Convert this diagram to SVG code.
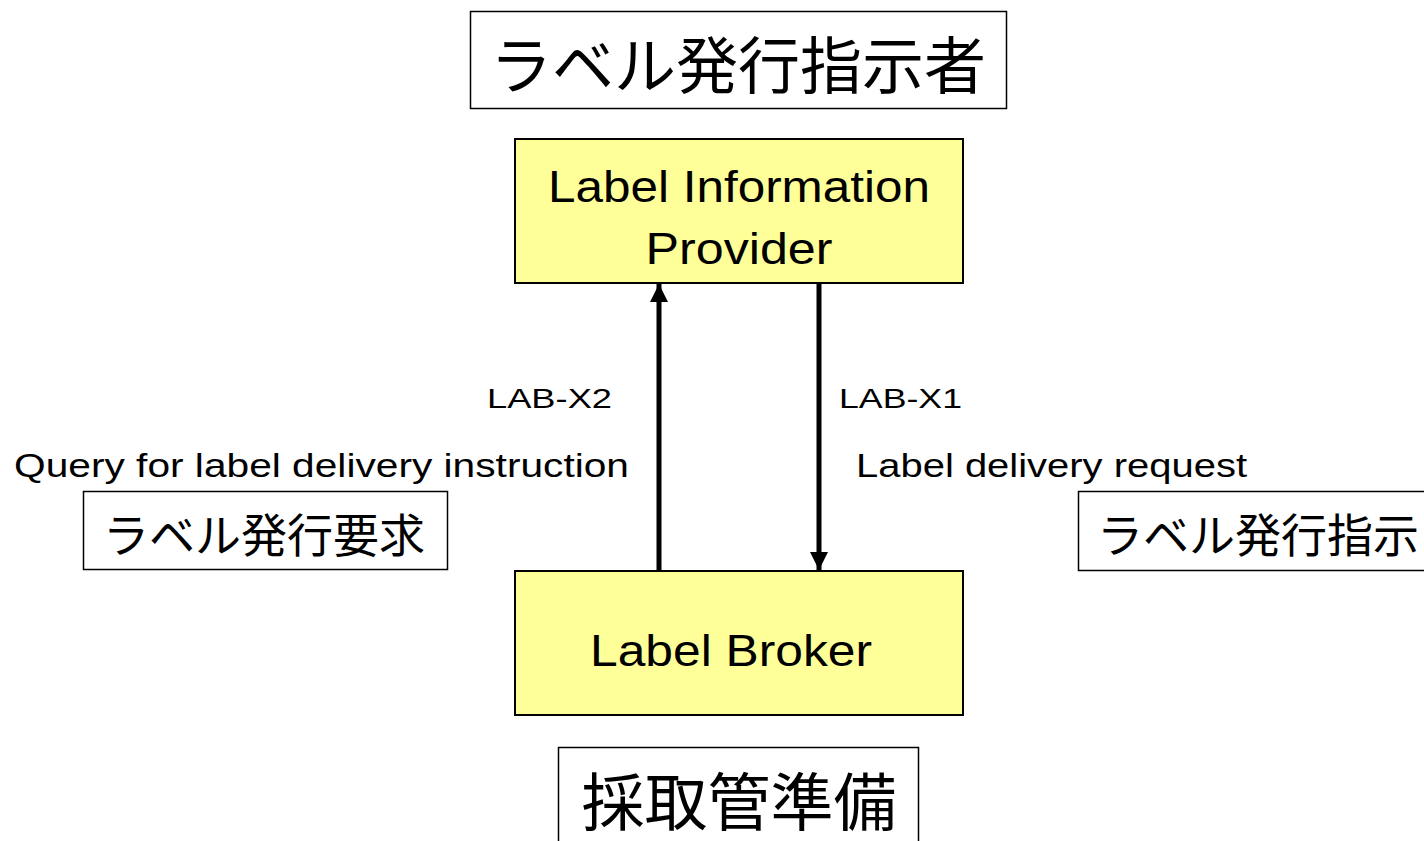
<svg xmlns="http://www.w3.org/2000/svg" width="1424" height="841" viewBox="0 0 1424 841">
<style>
.frame{fill:#fff;stroke:#000;stroke-width:1.5}
.node{fill:#FFFF99;stroke:#000;stroke-width:2}
.jp{font-family:"Noto Sans CJK JP","Liberation Sans",sans-serif;fill:#000}
.en{font-family:"Liberation Sans","DejaVu Sans",sans-serif;fill:#000}
.conn{stroke:#000;stroke-width:5;fill:none}
</style>
<defs>
<marker id="ah" markerWidth="18" markerHeight="18" refX="18" refY="9" orient="auto" markerUnits="userSpaceOnUse">
<path d="M0,0 L18,9 L0,18 Z" fill="#000"/>
</marker>
</defs>
<rect width="1424" height="841" fill="#fff"/>
<g id="title-top">
<rect class="frame" x="470.5" y="11.5" width="536" height="97"/>
<text class="jp" x="738" y="89" font-size="62" text-anchor="middle" textLength="496" lengthAdjust="spacingAndGlyphs">ラベル発行指示者</text>
</g>
<g id="lip">
<rect class="node" x="515" y="139" width="448" height="144"/>
<text class="en" x="739" y="202" font-size="44" text-anchor="middle" textLength="382" lengthAdjust="spacingAndGlyphs">Label Information</text>
<text class="en" x="739" y="264" font-size="44" text-anchor="middle" textLength="187" lengthAdjust="spacingAndGlyphs">Provider</text>
</g>
<g id="broker">
<rect class="node" x="515" y="571" width="448" height="144"/>
<text class="en" x="731" y="666" font-size="44" text-anchor="middle" textLength="282" lengthAdjust="spacingAndGlyphs">Label Broker</text>
</g>
<g id="title-bottom">
<rect class="frame" x="558.5" y="747.5" width="360" height="110"/>
<text class="jp" x="739" y="825" font-size="63" text-anchor="middle">採取管準備</text>
</g>
<g id="req-box">
<rect class="frame" x="83.5" y="491.5" width="364" height="78"/>
<text class="jp" x="264" y="552" font-size="46" text-anchor="middle">ラベル発行要求</text>
</g>
<g id="inst-box">
<rect class="frame" x="1078.5" y="491.5" width="360" height="79"/>
<text class="jp" x="1097" y="552" font-size="46">ラベル発行指示</text>
</g>
<g id="connectors">
<line class="conn" x1="659" y1="571" x2="659" y2="284" marker-end="url(#ah)"/>
<line class="conn" x1="819" y1="283" x2="819" y2="570" marker-end="url(#ah)"/>
</g>
<g id="labels">
<text class="en" x="487" y="408" font-size="28" textLength="125" lengthAdjust="spacingAndGlyphs">LAB-X2</text>
<text class="en" x="839" y="408" font-size="28" textLength="123" lengthAdjust="spacingAndGlyphs">LAB-X1</text>
<text class="en" x="14" y="477" font-size="34" textLength="615" lengthAdjust="spacingAndGlyphs">Query for label delivery instruction</text>
<text class="en" x="856" y="477" font-size="34" textLength="391" lengthAdjust="spacingAndGlyphs">Label delivery request</text>
</g>
</svg>
